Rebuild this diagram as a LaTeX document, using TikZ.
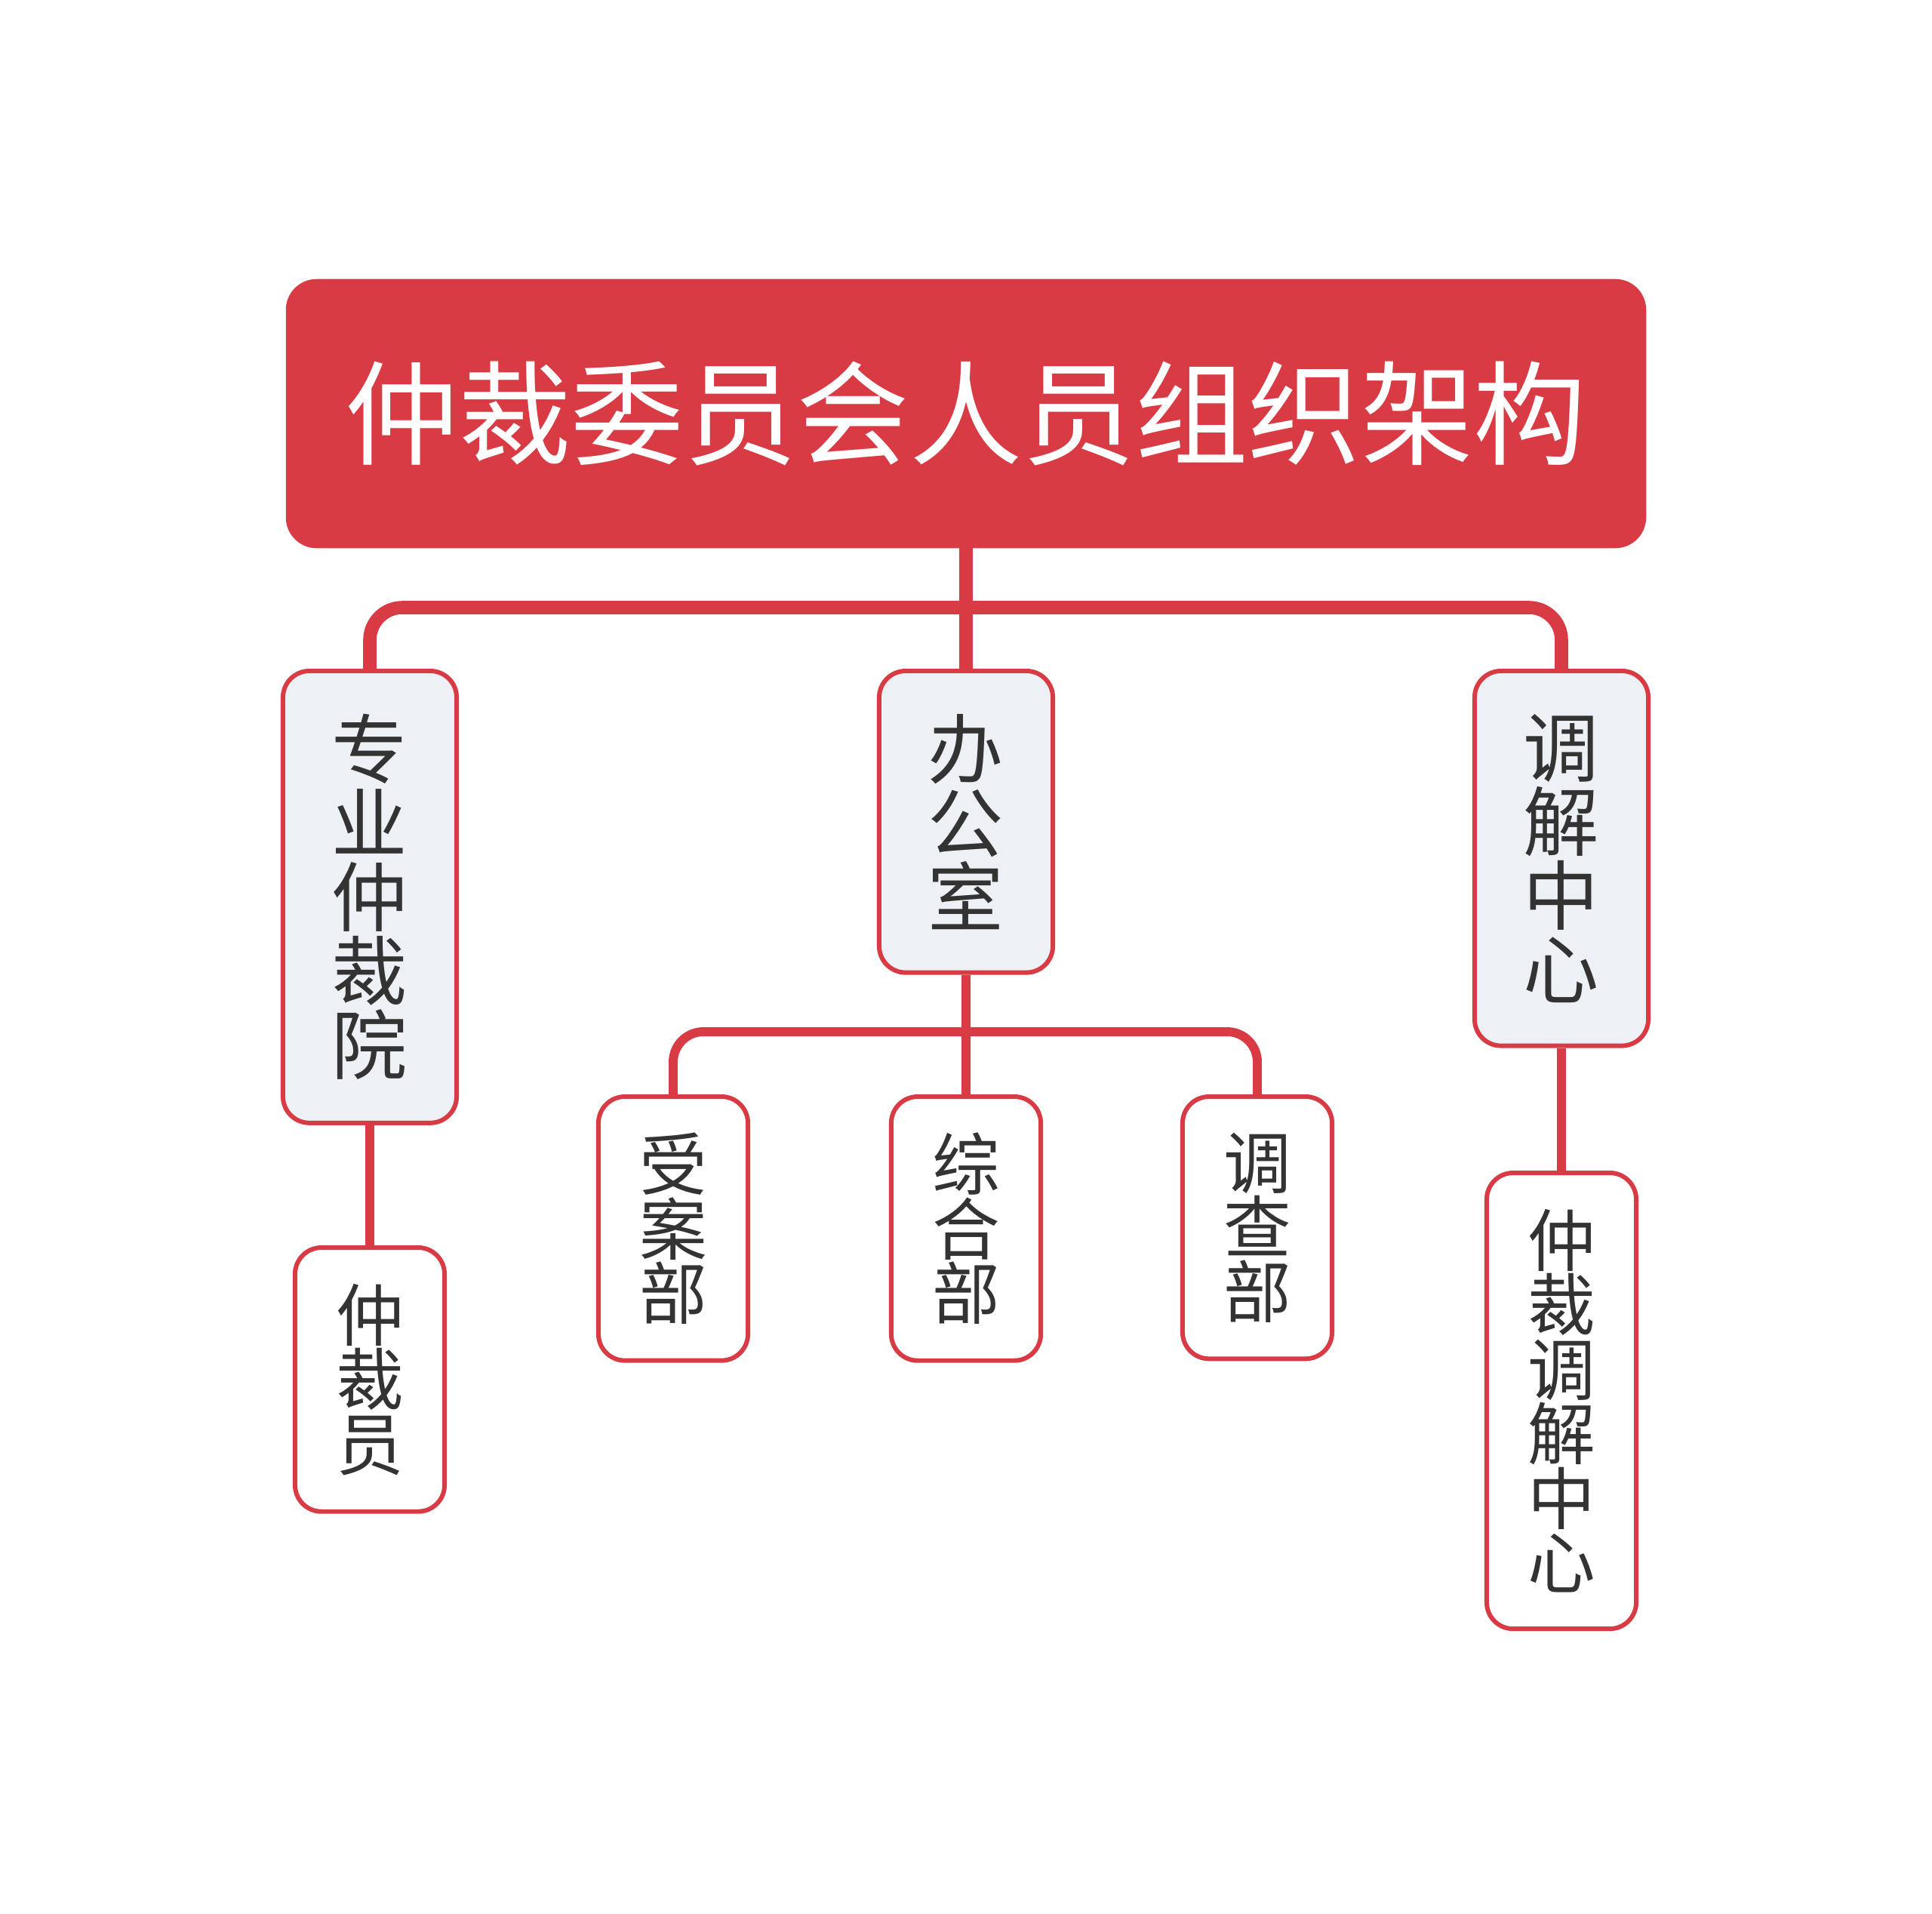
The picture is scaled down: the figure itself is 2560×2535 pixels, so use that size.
\documentclass[tikz,border=0pt]{standalone}
\usepackage{fontspec}
\setmainfont{Noto Sans CJK SC}
\usepackage{tikz}
\usetikzlibrary{positioning}
\definecolor{crimson}{HTML}{D93B44}
\definecolor{mist}{HTML}{EDF0F4}
\definecolor{ink}{HTML}{333333}

\tikzset{
  rootbox/.style={fill=crimson, draw=crimson, rounded corners=0.4cm,
    minimum width=18cm, minimum height=3.55cm, inner sep=0pt,
    text=white, font=\fontsize{42.5}{50}\selectfont},
  deptbox/.style={fill=mist, draw=crimson, line width=1.7pt, rounded corners=0.35cm,
    minimum width=2.3cm, inner xsep=0pt, inner ysep=0.57cm, align=center,
    text=ink, font=\fontsize{28.5}{27.9}\selectfont},
  unitbox/.style={fill=white, draw=crimson, line width=1.7pt, rounded corners=0.35cm,
    minimum width=1.98cm, inner xsep=0pt, inner ysep=0.48cm, align=center,
    text=ink, font=\fontsize{25.5}{24.3}\selectfont},
  link/.style={draw=crimson, line width=5pt, rounded corners=0.43cm},
  sublink/.style={draw=crimson, line width=3.4pt, rounded corners=0.4cm},
}

\begin{document}
\begin{tikzpicture}[x=0.01cm, y=-0.01cm]
  \useasboundingbox (0,0) rectangle (2560,2535);

  % root
  \node[rootbox] (root) at (1280,548) {仲裁委员会人员组织架构};

  % first level
  \node[deptbox, anchor=north] (yuan) at (490,886) {专\\业\\仲\\裁\\院};
  \node[deptbox, anchor=north] (office) at (1280,886) {办\\公\\室};
  \node[deptbox, anchor=north] (tiaojie) at (2069,886) {调\\解\\中\\心};

  % second level
  \node[unitbox, anchor=north] (arbiter) at (490,1650) {仲\\裁\\员};
  \foreach \name/\x/\txt in {shouan/892/受\\案\\部, zonghe/1280/综\\合\\部, diaocha/1666/调\\查\\部} {
    \node[unitbox, anchor=north] (\name) at (\x,1450) {\txt};
  }
  \node[unitbox, anchor=north] (mediation) at (2069,1551) {仲\\裁\\调\\解\\中\\心};

  % connectors
  \coordinate (bus) at (1280,805);
  \coordinate (subbus) at (1280,1367);
  \draw[link] (root.south) -- (office.north);
  \draw[link] (yuan.north) |- (bus) -| (tiaojie.north);
  \draw[sublink] (office.south) -- (zonghe.north);
  \draw[sublink] (shouan.north) |- (subbus) -| (diaocha.north);
  \draw[sublink] (yuan.south) -- (arbiter.north);
  \draw[sublink] (tiaojie.south) -- (mediation.north);
\end{tikzpicture}
\end{document}
